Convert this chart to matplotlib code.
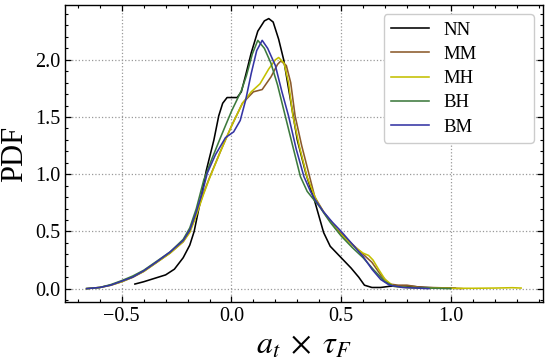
import numpy as np
import matplotlib
matplotlib.use('Agg')
import matplotlib.pyplot as plt
from matplotlib.ticker import MultipleLocator

plt.rcParams['font.family'] = ['Liberation Serif', 'DejaVu Serif']
plt.rcParams['mathtext.fontset'] = 'stix'

# PDF curves (x = a_t * tau_F, y = PDF)
nn_x = [-0.44, -0.40, -0.35, -0.30, -0.26, -0.22, -0.19, -0.17, -0.14, -0.115, -0.08, -0.058,
        -0.04, -0.02, 0.0, 0.026, 0.045, 0.064, 0.09, 0.12, 0.15, 0.17, 0.19, 0.215, 0.238,
        0.268, 0.30, 0.34, 0.38, 0.42, 0.45, 0.495, 0.545, 0.58, 0.606, 0.64, 0.68, 0.72,
        0.78, 0.82, 0.88, 0.95, 1.02]
nn_y = [0.04, 0.06, 0.09, 0.12, 0.17, 0.27, 0.38, 0.50, 0.78, 1.03, 1.30, 1.51,
        1.62, 1.67, 1.67, 1.67, 1.72, 1.86, 2.06, 2.25, 2.34, 2.36, 2.33, 2.18, 2.00,
        1.66, 1.30, 1.00, 0.76, 0.49, 0.37, 0.28, 0.18, 0.10, 0.03, 0.01, 0.01, 0.02,
        0.025, 0.02, 0.01, 0.005, 0.003]

mm_x = [-0.66, -0.60, -0.55, -0.50, -0.45, -0.40, -0.34, -0.28, -0.22, -0.19, -0.16, -0.13,
        -0.10, -0.05, 0.0, 0.05, 0.10, 0.14, 0.18, 0.21, 0.225, 0.25, 0.27, 0.29, 0.32,
        0.356, 0.38, 0.42, 0.48, 0.55, 0.60, 0.64, 0.68, 0.72, 0.76, 0.80, 0.85, 0.90,
        1.0, 1.05]
mm_y = [0.0, 0.01, 0.03, 0.06, 0.10, 0.15, 0.23, 0.31, 0.41, 0.50, 0.65, 0.82,
        0.97, 1.20, 1.42, 1.62, 1.72, 1.74, 1.85, 1.96, 1.99, 1.95, 1.80, 1.51, 1.25,
        0.98, 0.80, 0.67, 0.52, 0.39, 0.30, 0.23, 0.12, 0.04, 0.03, 0.03, 0.015, 0.01,
        0.005, 0.0]

mh_x = [-0.66, -0.60, -0.55, -0.50, -0.45, -0.40, -0.34, -0.28, -0.22, -0.19, -0.16, -0.13,
        -0.103, -0.05, 0.0, 0.05, 0.09, 0.13, 0.17, 0.20, 0.215, 0.24, 0.26, 0.28, 0.31,
        0.344, 0.37, 0.39, 0.43, 0.49, 0.55, 0.60, 0.625, 0.645, 0.67, 0.70, 0.74, 0.80,
        0.90, 1.0, 1.10, 1.20, 1.28, 1.32]
mh_y = [0.0, 0.01, 0.03, 0.06, 0.10, 0.15, 0.23, 0.31, 0.41, 0.49, 0.64, 0.81,
        0.95, 1.20, 1.42, 1.62, 1.72, 1.79, 1.92, 2.00, 2.02, 1.97, 1.80, 1.51, 1.24,
        0.98, 0.85, 0.76, 0.64, 0.49, 0.38, 0.31, 0.29, 0.25, 0.17, 0.08, 0.02, 0.01,
        0.005, 0.003, 0.003, 0.005, 0.008, 0.005]

bh_x = [-0.66, -0.60, -0.55, -0.50, -0.45, -0.40, -0.34, -0.28, -0.22, -0.19, -0.16, -0.126,
        -0.09, -0.05, 0.0, 0.045, 0.068, 0.095, 0.12, 0.15, 0.18, 0.21, 0.245, 0.28, 0.314,
        0.345, 0.37, 0.40, 0.45, 0.50, 0.55, 0.60, 0.65, 0.70, 0.74, 0.80, 0.90, 1.0]
bh_y = [0.0, 0.01, 0.035, 0.07, 0.11, 0.16, 0.24, 0.32, 0.43, 0.53, 0.70, 0.95,
        1.13, 1.32, 1.55, 1.73, 1.86, 2.05, 2.17, 2.10, 1.97, 1.78, 1.51, 1.24, 0.98,
        0.85, 0.79, 0.72, 0.58, 0.46, 0.36, 0.27, 0.16, 0.06, 0.02, 0.01, 0.005, 0.0]

bm_x = [-0.66, -0.60, -0.55, -0.50, -0.45, -0.40, -0.34, -0.28, -0.22, -0.19, -0.16, -0.13,
        -0.11, -0.073, -0.027, 0.01, 0.04, 0.065, 0.09, 0.115, 0.14, 0.165, 0.20, 0.23, 0.26,
        0.295, 0.33, 0.36, 0.38, 0.42, 0.46, 0.50, 0.55, 0.60, 0.64, 0.68, 0.72, 0.78, 0.90]
bm_y = [0.0, 0.01, 0.03, 0.065, 0.10, 0.155, 0.235, 0.32, 0.42, 0.51, 0.67, 0.86,
        1.01, 1.17, 1.32, 1.37, 1.47, 1.65, 1.88, 2.08, 2.17, 2.10, 1.95, 1.72, 1.51,
        1.22, 0.98, 0.85, 0.78, 0.67, 0.58, 0.50, 0.39, 0.28, 0.17, 0.08, 0.03, 0.01, 0.0]

labels = ['NN', 'MM', 'MH', 'BH', 'BM']
colors = ['k', '#8b5a2b', '#c4c000', '#3d7a3d', '#3434a4']
xs = [nn_x, mm_x, mh_x, bh_x, bm_x]
ys = [nn_y, mm_y, mh_y, bh_y, bm_y]

fig, ax = plt.subplots(figsize=(5.5, 3.64), dpi=100)
fig.subplots_adjust(left=0.118, right=0.987, bottom=0.170, top=0.986)

for x, y, c, l in zip(xs, ys, colors, labels):
    ax.plot(x, y, color=c, lw=1.15, label=l)

ax.xaxis.set_major_locator(MultipleLocator(0.5))
ax.xaxis.set_minor_locator(MultipleLocator(0.1))
ax.yaxis.set_major_locator(MultipleLocator(0.5))
ax.yaxis.set_minor_locator(MultipleLocator(0.1))
ax.tick_params(which='both', direction='in', top=True, right=True, labelsize=14.5)
ax.tick_params(which='major', length=4.5, width=0.9)
ax.tick_params(which='minor', length=2.3, width=0.8)
for s in ax.spines.values():
    s.set_linewidth(1.0)
ax.grid(True, which='major', linestyle=':', color='0.6', lw=0.9)

ax.set_xlabel(r'$a_t \;\times\; \tau_F$', fontsize=23)
ax.set_ylabel('PDF', fontsize=22)
ax.legend(loc='upper left', bbox_to_anchor=(0.667, 0.0, 0.314, 0.970), mode='expand',
          borderaxespad=0, fontsize=13.5, handlelength=2.0, handletextpad=0.8,
          labelspacing=0.38, framealpha=1, edgecolor='0.8', fancybox=True)

plt.savefig('out.png', dpi=100)
